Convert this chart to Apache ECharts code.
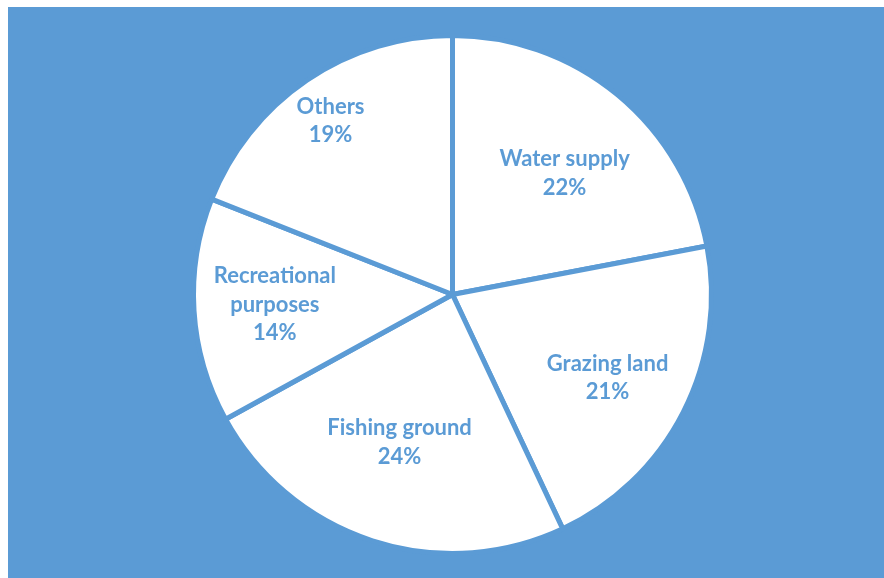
<!DOCTYPE html>
<html>
<head>
<meta charset="utf-8">
<script src="https://cdn.jsdelivr.net/npm/echarts@6/dist/echarts.min.js"></script>
<style>
  html, body { margin: 0; padding: 0; background: #ffffff; }
  #frame { width: 884px; height: 578px; position: relative; background: #ffffff; }
  #chart { position: absolute; left: 8px; top: 7px; width: 876px; height: 571px; background: #5B9BD5; }
</style>
</head>
<body>
<div id="frame"><div id="chart"></div></div>
<script>
// Uses of the wetland, share of respondents (%)
const categories = ['Water supply', 'Grazing land', 'Fishing ground', 'Recreational\npurposes', 'Others'];
const shares = [22, 21, 24, 14, 19];

// Label placement: distance from the centre (fraction of radius) and
// a small angular nudge (degrees) away from each slice's mid-angle
const labelRadius = [0.637, 0.68, 0.606, 0.687, 0.819];
const labelNudge = [3.2, 1.3, 1.7, 0.4, -0.9];

const BLUE = '#5B9BD5';
const CX = 444.5, CY = 287.5, R = 259;

const total = shares.reduce((a, b) => a + b, 0);
const midAngles = [];
let acc = 0;
shares.forEach(v => {
  midAngles.push((acc + v / 2) / total * Math.PI * 2);
  acc += v;
});

const chart = echarts.init(document.getElementById('chart'), null, { renderer: 'canvas' });
chart.setOption({
  animation: false,
  backgroundColor: BLUE,
  series: [{
    type: 'pie',
    center: [CX, CY],
    radius: [0, R],
    startAngle: 90,
    clockwise: true,
    silent: true,
    data: categories.map((name, i) => ({ name: name, value: shares[i] })),
    itemStyle: { color: '#ffffff', borderColor: BLUE, borderWidth: 5 },
    label: {
      show: true,
      position: 'inside',
      formatter: p => p.name + '\n' + p.value + '%',
      color: BLUE,
      fontFamily: 'Lato',
      fontWeight: 'bold',
      fontSize: 22,
      lineHeight: 28.5,
      align: 'center'
    },
    labelLine: { show: false },
    labelLayout: function (params) {
      const i = params.dataIndex;
      const a = midAngles[i] + labelNudge[i] * Math.PI / 180;
      const r = labelRadius[i] * R;
      return {
        x: CX + r * Math.sin(a),
        y: CY - r * Math.cos(a),
        align: 'center',
        verticalAlign: 'middle'
      };
    }
  }]
});
</script>
</body>
</html>
